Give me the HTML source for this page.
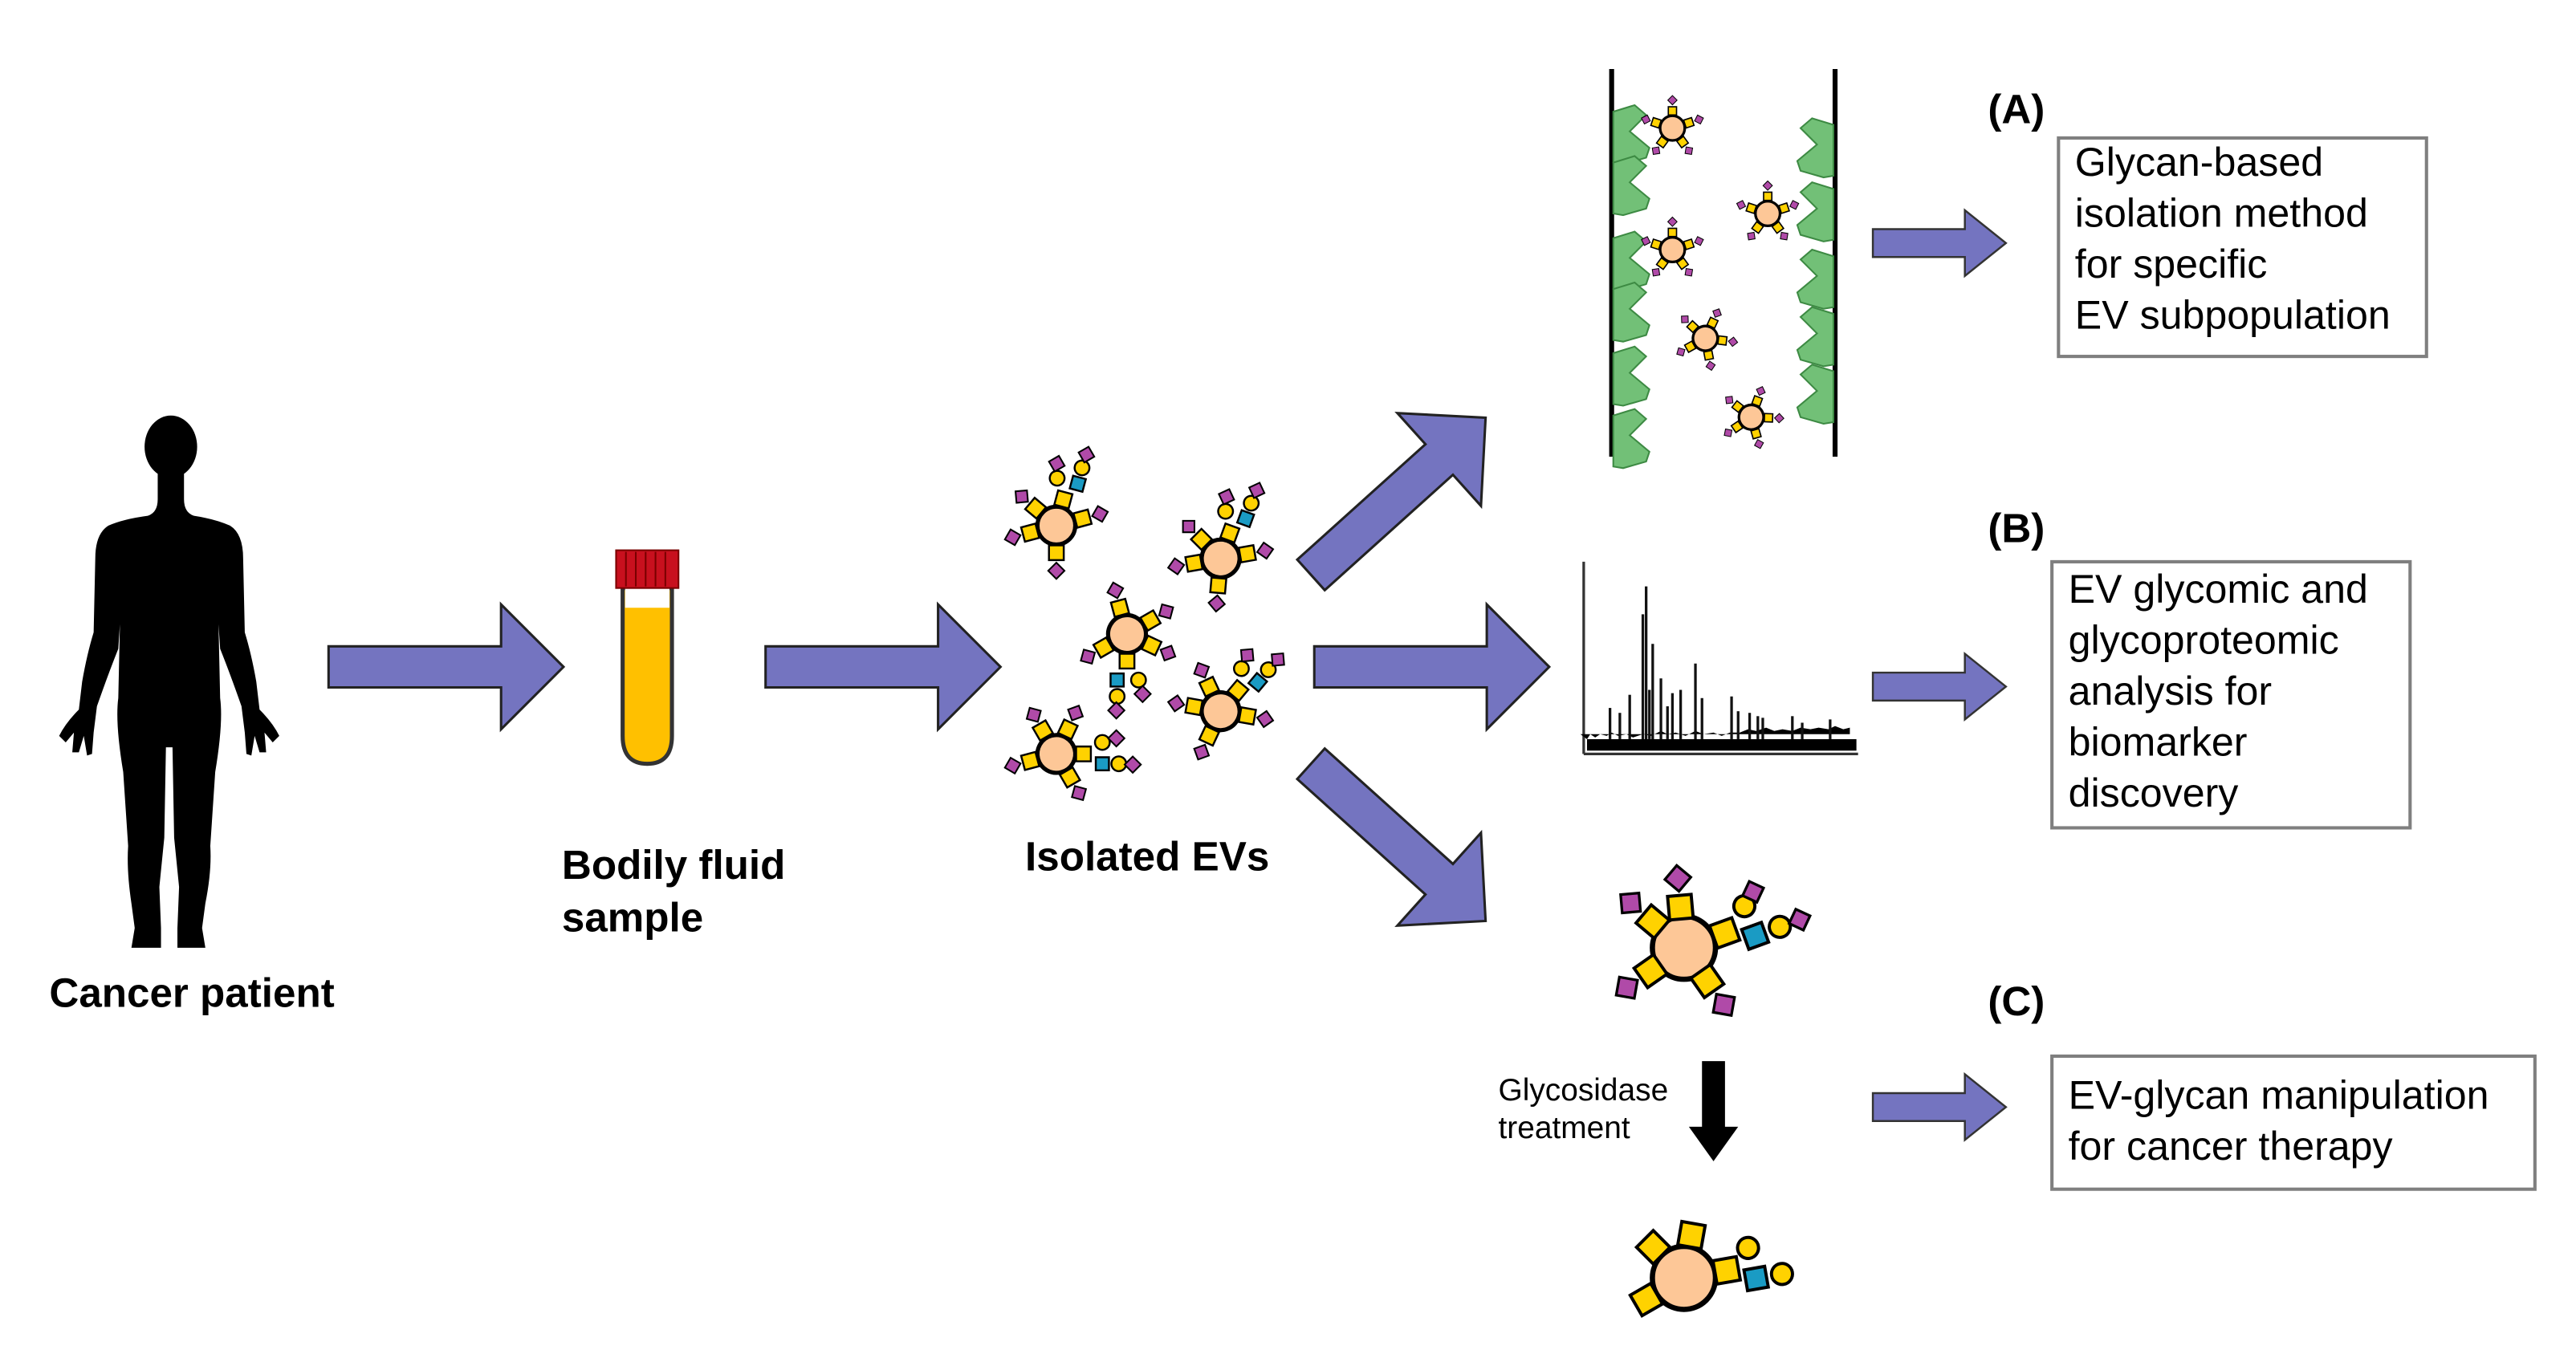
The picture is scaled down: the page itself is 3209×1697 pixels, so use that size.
<!DOCTYPE html>
<html><head><meta charset="utf-8"><style>
html,body{margin:0;padding:0;background:#fff;}
svg{display:block;}
text{font-family:"Liberation Sans",sans-serif;}
</style></head><body>
<svg width="3209" height="1697" viewBox="0 0 1568 829.2" preserveAspectRatio="none" xmlns="http://www.w3.org/2000/svg">
<defs>
<g id="br"><rect x="-4.5" y="-21" width="9" height="9" fill="#ffd200" stroke="#000" stroke-width="1.2"/><rect x="-3.5" y="-31" width="7" height="7" fill="#b04aa8" stroke="#000" stroke-width="1" transform="rotate(45 0 -27.5)"/></g>
<g id="ev">
<circle r="11.5" fill="#fdc797" stroke="#000" stroke-width="2.5"/>
<use href="#br" transform="rotate(-50)"/><use href="#br" transform="rotate(75)"/><use href="#br" transform="rotate(180)"/><use href="#br" transform="rotate(-105)"/>
<g transform="rotate(15)"><rect x="-4.5" y="-21" width="9" height="9" fill="#ffd200" stroke="#000" stroke-width="1.2"/><circle cx="-7" cy="-28" r="4.5" fill="#ffd200" stroke="#000" stroke-width="1.2"/><rect x="2" y="-32" width="8" height="8" fill="#1a9bc4" stroke="#000" stroke-width="1.2"/><rect x="-13" y="-40" width="7" height="7" fill="#b04aa8" stroke="#000" stroke-width="1" transform="rotate(45 -9.5 -36.5)"/><circle cx="6" cy="-38" r="4.5" fill="#ffd200" stroke="#000" stroke-width="1.2"/><rect x="3" y="-50" width="7" height="7" fill="#b04aa8" stroke="#000" stroke-width="1" transform="rotate(45 6.5 -46.5)"/></g>
</g>
<g id="sb"><rect x="-2.5" y="-13" width="5" height="5" fill="#ffd200" stroke="#000" stroke-width=".8"/><rect x="-2" y="-19" width="4" height="4" fill="#b04aa8" stroke="#000" stroke-width=".5" transform="rotate(45 0 -17)"/></g>
<g id="sev">
<circle r="7.5" fill="#fdc797" stroke="#000" stroke-width="1.6"/>
<use href="#sb"/><use href="#sb" transform="rotate(72)"/><use href="#sb" transform="rotate(144)"/><use href="#sb" transform="rotate(216)"/><use href="#sb" transform="rotate(288)"/>
</g>
<polygon id="rl" points="0,0 13,-4 20,2 10,12 22,22 20,28 6,32 0,31" fill="#72c077" stroke="#3d8a43" stroke-width="1"/>
<polygon id="bigarrow" points="0,-12.5 105,-12.5 105,-38 143,0 105,38 105,12.5 0,12.5" fill="#7474c0" stroke="#222" stroke-width="1.5"/>
<polygon id="smarrow" points="0,-8.5 56,-8.5 56,-20 81,0 56,20 56,8.5 0,8.5" fill="#7474c0" stroke="#333" stroke-width="1.2"/>
</defs>

<!-- person -->
<ellipse cx="104" cy="272" rx="16" ry="19" fill="#000"/>
<path d="M96,285 L96,304 Q96,312 90,314 Q75,316 66,320 Q58,325 58,340 L57,385 Q53,398 50,415 L48,432 Q40,440 36,448 L40,452 L45,446 L44,458 L48,458 L51,448 L53,460 L56,459 L57,446 L59,430 Q66,410 72,395 L73,380 L72,425 Q70,440 75,470 L78,515 Q77,530 80,550 L82,565 L80,577 L98,577 L98,565 L97,540 L100,510 L101,455 L105,455 L106,510 L109,540 L108,565 L108,577 L125,577 L123,565 L125,550 Q129,530 128,515 L131,470 Q136,440 134,425 L133,380 L134,395 Q140,410 147,430 L149,446 L150,459 L153,460 L155,448 L158,458 L162,458 L161,446 L166,452 L170,448 Q166,440 158,432 L156,415 Q153,398 149,385 L148,340 Q148,325 140,320 Q131,316 118,314 Q112,312 112,304 L112,285 Z" fill="#000"/>
<text x="30" y="613" font-size="25" font-weight="bold">Cancer patient</text>

<use href="#bigarrow" x="200" y="406"/>

<!-- tube -->
<path d="M379,358 L379,448 Q379,465 394,465 Q409,465 409,448 L409,358 Z" fill="#ffc000" stroke="#333" stroke-width="2.5"/>
<rect x="380.5" y="358" width="27" height="12" fill="#fff"/>
<rect x="375" y="335" width="38" height="23" fill="#c8101e" stroke="#7a0000" stroke-width="1"/>
<g stroke="#7a0000" stroke-width="1"><line x1="381" y1="336" x2="381" y2="357"/><line x1="387" y1="336" x2="387" y2="357"/><line x1="393" y1="336" x2="393" y2="357"/><line x1="399" y1="336" x2="399" y2="357"/><line x1="405" y1="336" x2="405" y2="357"/></g>
<text x="342" y="535" font-size="25" font-weight="bold">Bodily fluid</text>
<text x="342" y="567" font-size="25" font-weight="bold">sample</text>

<use href="#bigarrow" x="466" y="406"/>

<!-- EVs -->
<use href="#ev" transform="translate(643,320)"/>
<use href="#ev" transform="translate(743,340) rotate(5)"/>
<use href="#ev" transform="translate(686,386) rotate(165)"/>
<use href="#ev" transform="translate(743,433) rotate(25)"/>
<use href="#ev" transform="translate(643,459) rotate(75)"/>
<text x="624" y="530" font-size="25" font-weight="bold">Isolated EVs</text>

<use href="#bigarrow" transform="translate(798,350) rotate(-42)"/>
<use href="#bigarrow" x="800" y="406"/>
<use href="#bigarrow" transform="translate(798,465) rotate(42)"/>

<!-- channel -->
<line x1="981" y1="42" x2="981" y2="278" stroke="#000" stroke-width="3"/>
<line x1="1117" y1="42" x2="1117" y2="278" stroke="#000" stroke-width="3"/>
<use href="#rl" x="982" y="68"/>
<use href="#rl" x="982" y="145"/>
<use href="#rl" x="982" y="99"/>
<use href="#rl" x="982" y="176"/>
<use href="#rl" x="982" y="215"/>
<use href="#rl" x="982" y="253"/>
<g transform="translate(2098,0) scale(-1,1)">
<use href="#rl" x="982" y="76"/>
<use href="#rl" x="982" y="115"/>
<use href="#rl" x="982" y="156"/>
<use href="#rl" x="982" y="191"/>
<use href="#rl" x="982" y="226"/>
</g>
<use href="#sev" transform="translate(1018,78)"/>
<use href="#sev" transform="translate(1018,152)"/>
<use href="#sev" transform="translate(1076,130)"/>
<use href="#sev" transform="translate(1038,206) rotate(25)"/>
<use href="#sev" transform="translate(1066,254) rotate(20)"/>

<!-- spectrum -->
<line x1="964" y1="342" x2="964" y2="459" stroke="#333" stroke-width="1.6"/>
<line x1="964" y1="459" x2="1131" y2="459" stroke="#333" stroke-width="1.6"/>
<rect x="966" y="450" width="164" height="7" fill="#000"/>
<path d="M966,450 l2,-3 3,2 3,-2 4,1 3,-2 4,2 5,-1 4,2 6,-2 5,1 6,-3 4,2 5,-1 6,2 6,-3 5,2 6,-1 5,2 5,-2 6,0 5,-2 5,1 6,-2 5,2 5,-1 6,1 5,-2 6,1 5,-1 6,1 4,-2 5,2 4,-1 v4 h-164 z" fill="#000"/>
<g stroke="#111" stroke-width="1.6">
<line x1="1006" y1="450" x2="1006" y2="392"/><line x1="1000" y1="450" x2="1000" y2="374"/><line x1="1002" y1="450" x2="1002" y2="357"/><line x1="1004" y1="450" x2="1004" y2="420"/>
<line x1="992" y1="450" x2="992" y2="423"/><line x1="1023" y1="450" x2="1023" y2="420"/><line x1="1015" y1="450" x2="1015" y2="430"/>
<line x1="1032" y1="450" x2="1032" y2="404"/><line x1="1036" y1="450" x2="1036" y2="425"/>
<line x1="1011" y1="450" x2="1011" y2="413"/><line x1="1018" y1="450" x2="1018" y2="422"/>
<line x1="980" y1="450" x2="980" y2="431"/><line x1="986" y1="450" x2="986" y2="434"/>
<line x1="1054" y1="450" x2="1054" y2="424"/><line x1="1058" y1="450" x2="1058" y2="433"/>
<line x1="1065" y1="450" x2="1065" y2="434"/><line x1="1070" y1="450" x2="1070" y2="436"/><line x1="1073" y1="450" x2="1073" y2="437"/>
<line x1="1091" y1="450" x2="1091" y2="436"/><line x1="1097" y1="450" x2="1097" y2="440"/><line x1="1114" y1="450" x2="1114" y2="438"/>
</g>

<!-- C EVs -->
<g transform="translate(1025,577) scale(1.6)">
<circle r="12" fill="#fdc797" stroke="#000" stroke-width="2"/>
<use href="#br" transform="rotate(-50) translate(0,1)"/><use href="#br" transform="rotate(-5) translate(0,1)"/>
<use href="#br" transform="rotate(-125) translate(0,1)"/><use href="#br" transform="rotate(145) translate(0,1)"/>
<g transform="rotate(70)"><rect x="-4.5" y="-21" width="9" height="9" fill="#ffd200" stroke="#000" stroke-width="1.2"/><circle cx="-7" cy="-27" r="4" fill="#ffd200" stroke="#000" stroke-width="1.2"/><rect x="1" y="-31" width="8" height="8" fill="#1a9bc4" stroke="#000" stroke-width="1.2"/><circle cx="5" cy="-37" r="4" fill="#ffd200" stroke="#000" stroke-width="1.2"/><rect x="-14" y="-35" width="6" height="6" fill="#b04aa8" stroke="#000" stroke-width="1" transform="rotate(45 -11 -32)"/><rect x="2" y="-48" width="6" height="6" fill="#b04aa8" stroke="#000" stroke-width="1" transform="rotate(45 5 -45)"/></g>
</g>
<polygon points="1036,646 1050,646 1050,686 1058,686 1043,707 1028,686 1036,686" fill="#000"/>
<text x="912" y="670" font-size="19">Glycosidase</text>
<text x="912" y="693" font-size="19">treatment</text>
<g transform="translate(1025,778) scale(1.6)">
<circle r="12" fill="#fdc797" stroke="#000" stroke-width="2"/>
<g transform="rotate(-45)"><rect x="-4.5" y="-21" width="9" height="9" fill="#ffd200" stroke="#000" stroke-width="1.2"/></g>
<g transform="rotate(10)"><rect x="-4.5" y="-21" width="9" height="9" fill="#ffd200" stroke="#000" stroke-width="1.2"/></g>
<g transform="rotate(-120)"><rect x="-4.5" y="-21" width="9" height="9" fill="#ffd200" stroke="#000" stroke-width="1.2"/></g>
<g transform="rotate(80)"><rect x="-4.5" y="-21" width="9" height="9" fill="#ffd200" stroke="#000" stroke-width="1.2"/><circle cx="-7" cy="-26" r="4" fill="#ffd200" stroke="#000" stroke-width="1.2"/><rect x="1" y="-31" width="8" height="8" fill="#1a9bc4" stroke="#000" stroke-width="1.2"/><circle cx="5" cy="-37" r="4" fill="#ffd200" stroke="#000" stroke-width="1.2"/></g>
</g>

<!-- small arrows -->
<use href="#smarrow" x="1140" y="148"/>
<use href="#smarrow" x="1140" y="418"/>
<use href="#smarrow" x="1140" y="674"/>

<!-- labels & boxes -->
<text x="1210" y="75" font-size="25" font-weight="bold">(A)</text>
<text x="1210" y="330" font-size="25" font-weight="bold">(B)</text>
<text x="1210" y="618" font-size="25" font-weight="bold">(C)</text>
<g fill="#fff" stroke="#7f7f7f" stroke-width="2">
<rect x="1253" y="84" width="224" height="133"/>
<rect x="1249" y="342" width="218" height="162"/>
<rect x="1249" y="643" width="294" height="81"/>
</g>
<g font-size="24.5">
<text x="1263" y="107">Glycan-based</text>
<text x="1263" y="138">isolation method</text>
<text x="1263" y="169">for specific</text>
<text x="1263" y="200">EV subpopulation</text>
<text x="1259" y="367">EV glycomic and</text>
<text x="1259" y="398">glycoproteomic</text>
<text x="1259" y="429">analysis for</text>
<text x="1259" y="460">biomarker</text>
<text x="1259" y="491">discovery</text>
<text x="1259" y="675">EV-glycan manipulation</text>
<text x="1259" y="706">for cancer therapy</text>
</g>
</svg>
</body></html>
